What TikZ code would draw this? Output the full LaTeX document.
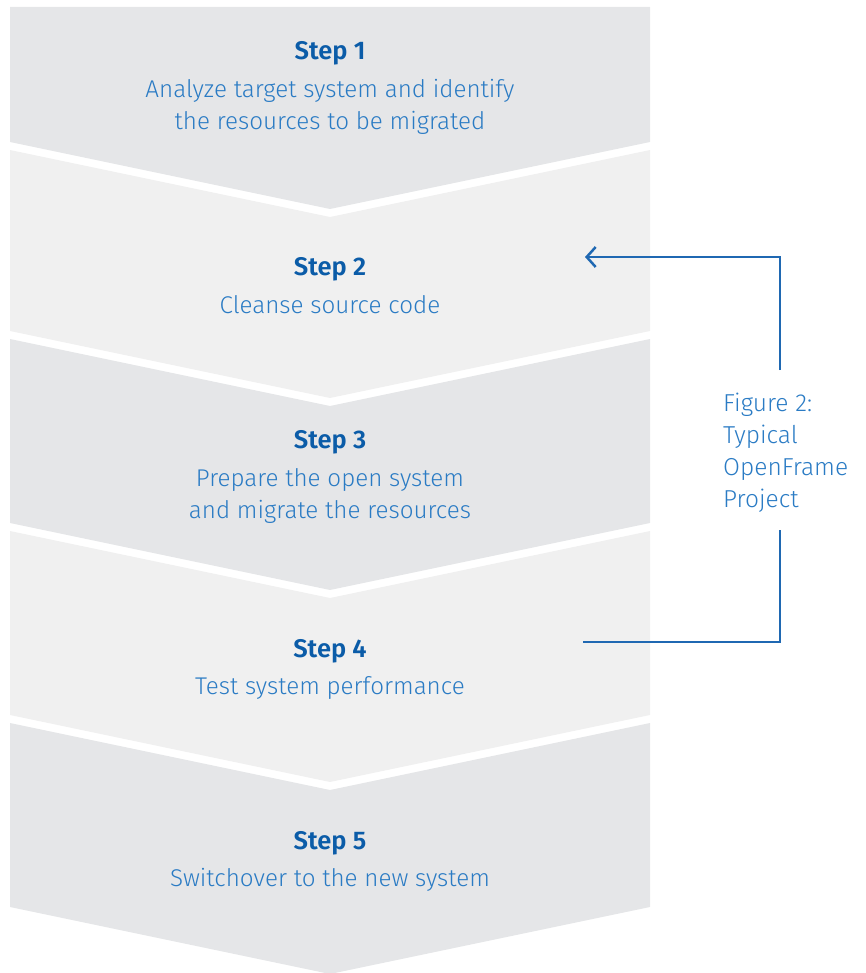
\documentclass[tikz,border=0pt]{standalone}
\usepackage{fontspec}
\setmainfont{Fira Sans Light}[BoldFont={Fira Sans SemiBold}]
\usetikzlibrary{arrows.meta}
\definecolor{darkbg}{HTML}{E5E6E8}
\definecolor{lightbg}{HTML}{F0F0F0}
\definecolor{txtblue}{HTML}{2A7BC4}
\definecolor{hdblue}{HTML}{0B5CA8}
\definecolor{lnblue}{HTML}{1F68B2}
\tikzset{
  steptext/.style={text=txtblue, align=center, font=\fontsize{24.2}{32}\selectfont, inner sep=0pt},
  stephead/.style={text=hdblue, font=\fontsize{25.5}{32}\selectfont\bfseries, inner sep=0pt},
  figtext/.style={text=txtblue, align=left, font=\fontsize{24.5}{32}\selectfont, inner sep=0pt, anchor=west},
  flowline/.style={draw=lnblue, line width=2.5pt},
}
\begin{document}
\begin{tikzpicture}[x=1pt,y=-1pt]
\useasboundingbox (0,0) rectangle (865,973);
% step shapes
\fill[darkbg] (10,7) -- (650,7) -- (650,142) -- (330,209) -- (10,142) -- cycle;
\fill[lightbg] (10,150) -- (330,217) -- (650,150) -- (650,331) -- (330,398) -- (10,331) -- cycle;
\fill[darkbg] (10,339) -- (330,406) -- (650,339) -- (650,523) -- (330,590) -- (10,523) -- cycle;
\fill[lightbg] (10,531) -- (330,598) -- (650,531) -- (650,715) -- (330,782) -- (10,715) -- cycle;
\fill[darkbg] (10,723) -- (330,790) -- (650,723) -- (650,907) -- (330,974) -- (10,907) -- cycle;
% texts
\node[stephead] (h1) at (330,53) {Step 1};
\node[steptext] (t1) at (330,107) {Analyze target system and identify\\the resources to be migrated};
\node[stephead] (h2) at (330,269) {Step 2};
\node[steptext] (t2) at (330,305) {Cleanse source code};
\node[stephead] (h3) at (330,442) {Step 3};
\node[steptext] (t3) at (330,496) {Prepare the open system\\and migrate the resources};
\node[stephead] (h4) at (330,651) {Step 4};
\node[steptext] (t4) at (330,688) {Test system performance};
\node[stephead] (h5) at (330,843) {Step 5};
\node[steptext] (t5) at (330,880) {Switchover to the new system};
% figure label
\node[figtext] (fig) at (723,453) {Figure 2:\\Typical\\OpenFrame\\Project};
% connectors
\coordinate (upend) at (780,370);
\coordinate (lowend) at (780,530);
\coordinate (tgt) at (585,257);
\coordinate (src) at (583,642);
\draw[flowline, -{Straight Barb[length=9pt,width=20pt,line width=2.5pt]}] (upend) |- (tgt);
\draw[flowline] (lowend) |- (src);
\end{tikzpicture}
\end{document}
